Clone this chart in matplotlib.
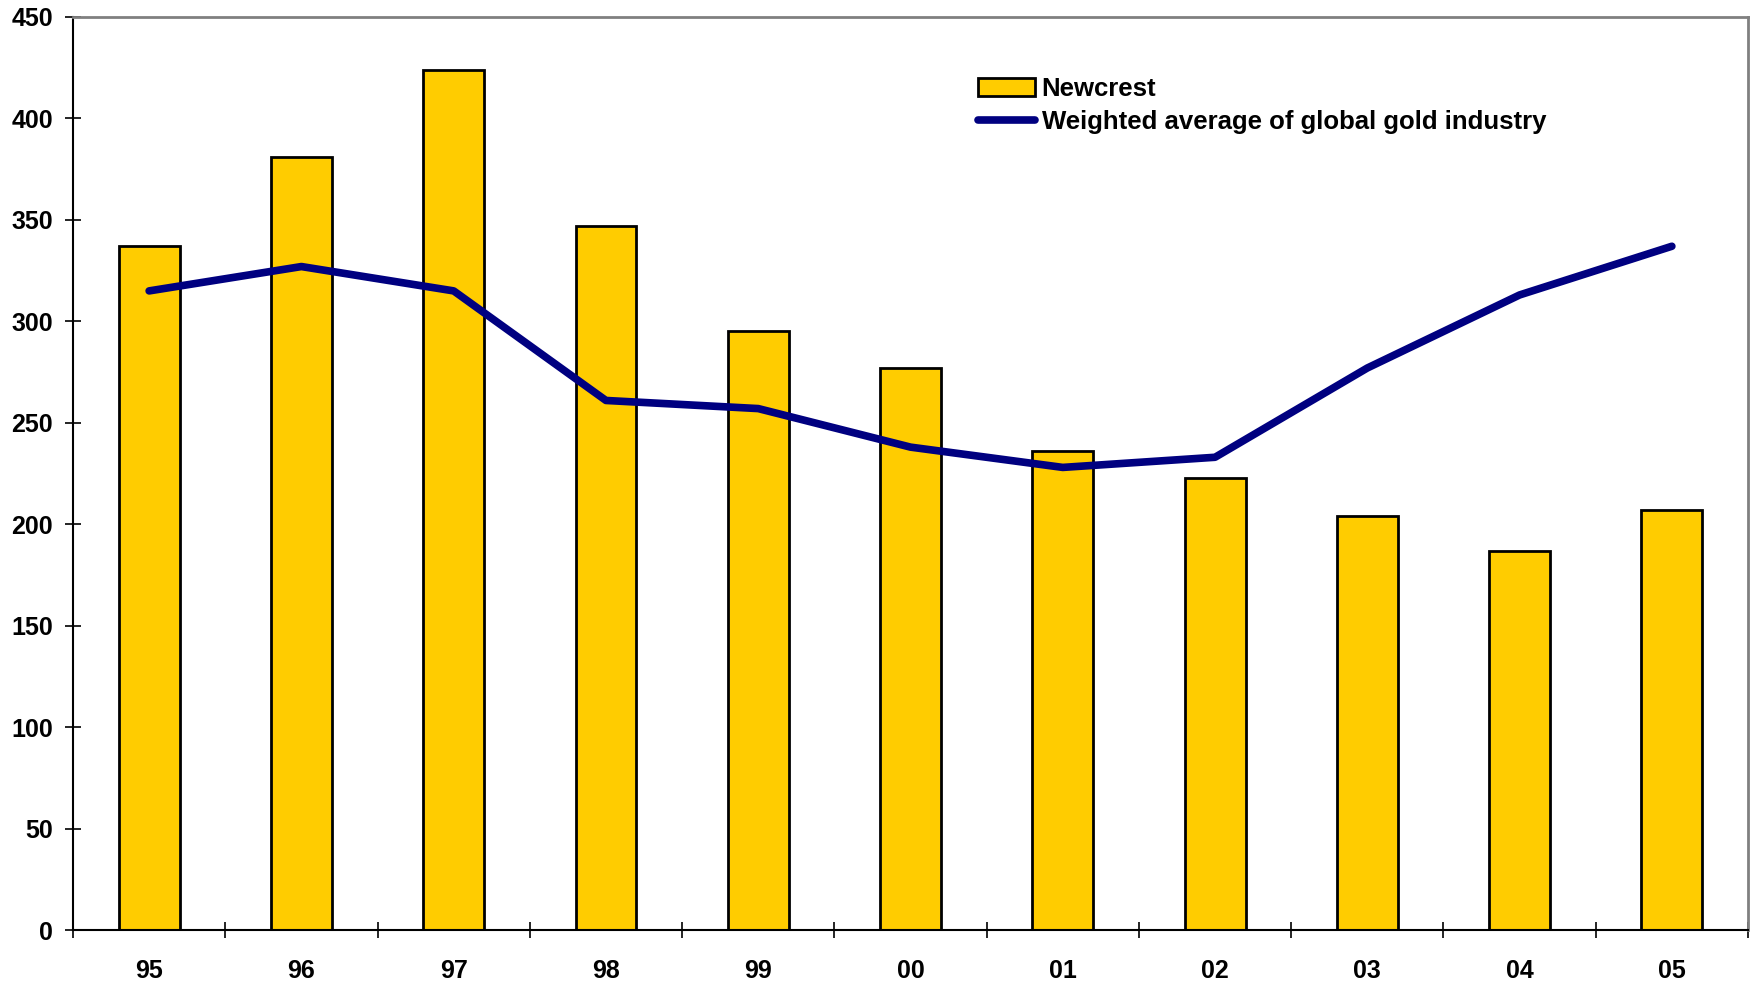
import matplotlib
matplotlib.use("Agg")
import matplotlib.pyplot as plt
import numpy as np

plt.rcParams['font.family'] = ['Liberation Sans', 'DejaVu Sans']
plt.rcParams['font.weight'] = 'bold'

years = ['95', '96', '97', '98', '99', '00', '01', '02', '03', '04', '05']
newcrest = [337, 381, 424, 347, 295, 277, 236, 223, 204, 187, 207]
industry = [315, 327, 315, 261, 257, 238, 228, 233, 277, 313, 337]

fig = plt.figure(figsize=(17.53, 9.83), dpi=100)
ax = fig.add_axes([73 / 1753, 1 - 930 / 983, 1675 / 1753, 913 / 983])

x = np.arange(len(years))
bars = ax.bar(x, newcrest, width=0.4, color='#FFCC00', edgecolor='black',
              linewidth=2, label='Newcrest', zorder=2)
line, = ax.plot(x, industry, color='#000080', linewidth=5.5,
                solid_capstyle='round',
                label='Weighted average of global gold industry', zorder=3)

ax.set_xlim(-0.5, len(years) - 0.5)
ax.set_ylim(0, 450)
ax.set_yticks(np.arange(0, 451, 50))
ax.set_xticks(x)
ax.set_xticklabels(years)
ax.set_xticks(np.arange(-0.5, len(years), 1), minor=True)

ax.tick_params(axis='y', direction='inout', length=12, width=1.2,
               labelsize=18, pad=8.5)
ax.tick_params(axis='x', which='major', length=0, labelsize=18, pad=21)
ax.tick_params(axis='x', which='minor', direction='inout', length=12, width=1.2)

for s in ['left', 'bottom']:
    ax.spines[s].set_color('black')
    ax.spines[s].set_linewidth(1.5)
for s in ['top', 'right']:
    ax.spines[s].set_color('#808080')
    ax.spines[s].set_linewidth(2)

ax.legend([bars, line], ['Newcrest', 'Weighted average of global gold industry'],
          loc='upper left', bbox_to_anchor=(978 / 1753, 1 - 77 / 983),
          bbox_transform=fig.transFigure, frameon=False, fontsize=18.5,
          handlelength=2.2, handleheight=0.7, handletextpad=0.28, borderpad=0,
          borderaxespad=0, labelspacing=0.36)

fig.savefig('out.png', dpi=100)
